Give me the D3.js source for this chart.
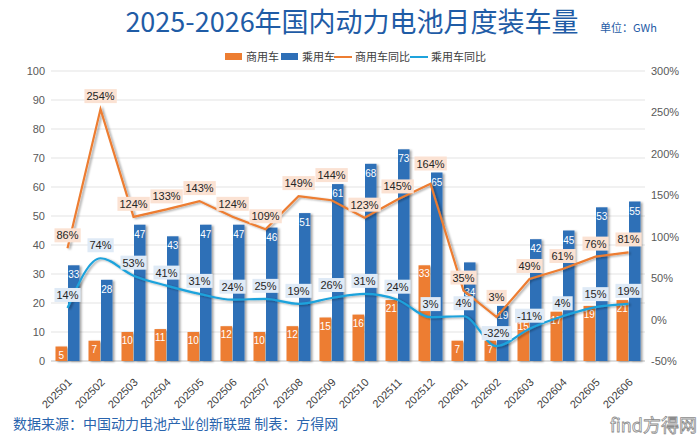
<!DOCTYPE html>
<html><head><meta charset="utf-8">
<script src="https://cdn.jsdelivr.net/npm/d3@7/dist/d3.min.js"></script>
<style>
body{margin:0;background:#fff;}
svg{display:block;font-family:"Liberation Sans","Noto Sans CJK SC",sans-serif;}
</style></head><body>
<svg id="c" width="700" height="443"></svg>
<script>
const months = ["202501","202502","202503","202504","202505","202506","202507","202508","202509","202510","202511","202512","202601","202602","202603","202604","202605","202606"];
const commercial = [5,7,10,11,10,12,10,12,15,16,21,33,7,7,15,17,19,21];
const passenger = [33,28,47,43,47,47,46,51,61,68,73,65,34,19,42,45,53,55];
const commercialYoY = [86,254,124,133,143,124,109,149,144,123,145,164,35,3,49,61,76,81];
const passengerYoY = [14,74,53,41,31,24,25,19,26,31,24,3,4,-32,-11,4,15,19];
const leftTicks = [0,10,20,30,40,50,60,70,80,90,100];
const rightTicks = [-50,0,50,100,150,200,250,300];

const C_ORANGE = "#ed7d31", C_BLUE = "#2e6fb7", C_LBLUE = "#1ea3dc";
const svg = d3.select("#c");
const defs = svg.append("defs");
const f = defs.append("filter").attr("id","sh").attr("x","-20%").attr("y","-20%").attr("width","160%").attr("height","160%");
f.append("feDropShadow").attr("dx",2).attr("dy",1).attr("stdDeviation",1.2).attr("flood-color","#000").attr("flood-opacity",0.35);

const L = 51, R = 645, T = 71, B = 361;
const x = d3.scaleBand().domain(months).range([L,R]).padding(0);
const y = d3.scaleLinear().domain([0,100]).range([B,T]);
const y2 = d3.scaleLinear().domain([-50,300]).range([B,T]);
const cx = m => x(m) + x.bandwidth()/2;

// title
svg.append("text").attr("x",352).attr("y",32).attr("text-anchor","middle")
  .attr("font-family","'Noto Sans CJK SC',sans-serif").attr("font-size",27).attr("font-weight",400)
  .attr("fill","#1f5ca6").text("2025-2026年国内动力电池月度装车量");
svg.append("text").attr("x",600).attr("y",32).attr("font-family","'Noto Sans CJK SC',sans-serif")
  .attr("font-size",11).attr("fill","#1f5ca6").text("单位：GWh");

// legend
const lg = svg.append("g").attr("font-family","'Noto Sans CJK SC',sans-serif").attr("font-size",11).attr("fill","#404040");
const legendItems = [
  {t:"商用车",type:"rect",c:C_ORANGE,x:225},
  {t:"乘用车",type:"rect",c:C_BLUE,x:281},
  {t:"商用车同比",type:"line",c:C_ORANGE,x:334},
  {t:"乘用车同比",type:"line",c:C_LBLUE,x:410}
];
legendItems.forEach(d=>{
  if(d.type==="rect") lg.append("rect").attr("x",d.x).attr("y",53).attr("width",17).attr("height",7).attr("fill",d.c);
  else lg.append("line").attr("x1",d.x).attr("x2",d.x+18).attr("y1",57).attr("y2",57).attr("stroke",d.c).attr("stroke-width",2);
  lg.append("text").attr("x",d.x+21).attr("y",61).text(d.t);
});

// grid
svg.append("g").selectAll("line").data(leftTicks).join("line")
  .attr("x1",L).attr("x2",R).attr("y1",d=>y(d)).attr("y2",d=>y(d))
  .attr("stroke",d=>d===0?"#bfbfbf":"#e3e3e3").attr("stroke-width",1);

// axes
const ga = svg.append("g").attr("transform",`translate(${L-4},0)`)
  .call(d3.axisLeft(y).tickValues(leftTicks).tickSize(0).tickPadding(2));
ga.select(".domain").remove();
ga.selectAll("text").attr("font-size",11).attr("fill","#595959");
const gb = svg.append("g").attr("transform",`translate(${R+4},0)`)
  .call(d3.axisRight(y2).tickValues(rightTicks).tickSize(0).tickPadding(2).tickFormat(d=>d+"%"));
gb.select(".domain").remove();
gb.selectAll("text").attr("font-size",11).attr("fill","#595959");

// x labels
svg.append("g").selectAll("text").data(months).join("text")
  .attr("transform",d=>`translate(${cx(d)+5},${B+22}) rotate(-45)`)
  .attr("text-anchor","end").attr("font-size",11).attr("fill","#404040").text(d=>d);

// bars
const bw = 11.5;
const bars = svg.append("g").attr("filter","url(#sh)");
bars.selectAll(".co").data(months).join("rect").attr("class","co")
  .attr("x",(d)=>cx(d)-bw-0.5).attr("width",bw)
  .attr("y",(d,i)=>y(commercial[i])).attr("height",(d,i)=>B-y(commercial[i])).attr("fill",C_ORANGE);
bars.selectAll(".pa").data(months).join("rect").attr("class","pa")
  .attr("x",(d)=>cx(d)+0.5).attr("width",bw)
  .attr("y",(d,i)=>y(passenger[i])).attr("height",(d,i)=>B-y(passenger[i])).attr("fill",C_BLUE);

const bl = svg.append("g").attr("font-size",10).attr("fill","#fff").attr("text-anchor","middle");
const passLabels = [];
months.forEach((m,i)=>{
  bl.append("text").attr("x",cx(m)-bw/2-0.5).attr("y",y(commercial[i])+12).text(commercial[i]);
  passLabels.push(bl.append("text").attr("x",cx(m)+bw/2+0.5).attr("y",y(passenger[i])+13).text(passenger[i]));
});

// lines
const lineC = d3.line().x((d,i)=>cx(months[i])).y(d=>y2(d));
const lineP = d3.line().x((d,i)=>cx(months[i])).y(d=>y2(d)).curve(d3.curveMonotoneX);
svg.append("path").datum(commercialYoY).attr("d",lineC).attr("fill","none")
  .attr("stroke",C_ORANGE).attr("stroke-width",2.2).attr("filter","url(#sh)");
svg.append("path").datum(passengerYoY).attr("d",lineP).attr("fill","none")
  .attr("stroke",C_LBLUE).attr("stroke-width",2.2).attr("filter","url(#sh)");

// line labels
function overlap(a,b){return a.x < b.x+b.width && b.x < a.x+a.width && a.y < b.y+b.height && b.y < a.y+a.height;}
function yoyLabels(vals, fill, avoid){
  const g = svg.append("g");
  vals.forEach((v,i)=>{
    const px = cx(months[i]);
    let py = y2(v) - 13;
    const t = g.append("text").attr("x",px).attr("y",py+4).attr("text-anchor","middle")
      .attr("font-size",11).attr("fill","#262626").text(v+"%");
    let bb = t.node().getBBox();
    if (avoid) {
      const lb = passLabels[i].node().getBBox();
      if (overlap(bb, lb)) {
        const top = y(passenger[i]);
        const target = top - 9;
        if (py - target < 15) {
          t.attr("y", target+4);
        } else {
          passLabels[i].attr("y", bb.y + bb.height + 12);
        }
        bb = t.node().getBBox();
      }
    }
    g.insert("rect","text").attr("x",bb.x-2).attr("y",bb.y-1).attr("width",bb.width+4).attr("height",bb.height+2).attr("fill",fill);
  });
}
yoyLabels(commercialYoY,"#fbe2d3",true);
yoyLabels(passengerYoY,"#dfeaf6",false);

// footer
svg.append("text").attr("x",13).attr("y",429).attr("font-family","'Noto Sans CJK SC',sans-serif")
  .attr("font-size",14).attr("fill","#2a64ad").text("数据来源：中国动力电池产业创新联盟  制表：方得网");
svg.append("text").attr("x",610).attr("y",432).attr("font-family","'Noto Sans CJK SC',sans-serif")
  .attr("font-size",18).attr("fill","#fff").attr("stroke","#8c8c8c").attr("stroke-width",0.8).text("find方得网");
</script></body></html>
